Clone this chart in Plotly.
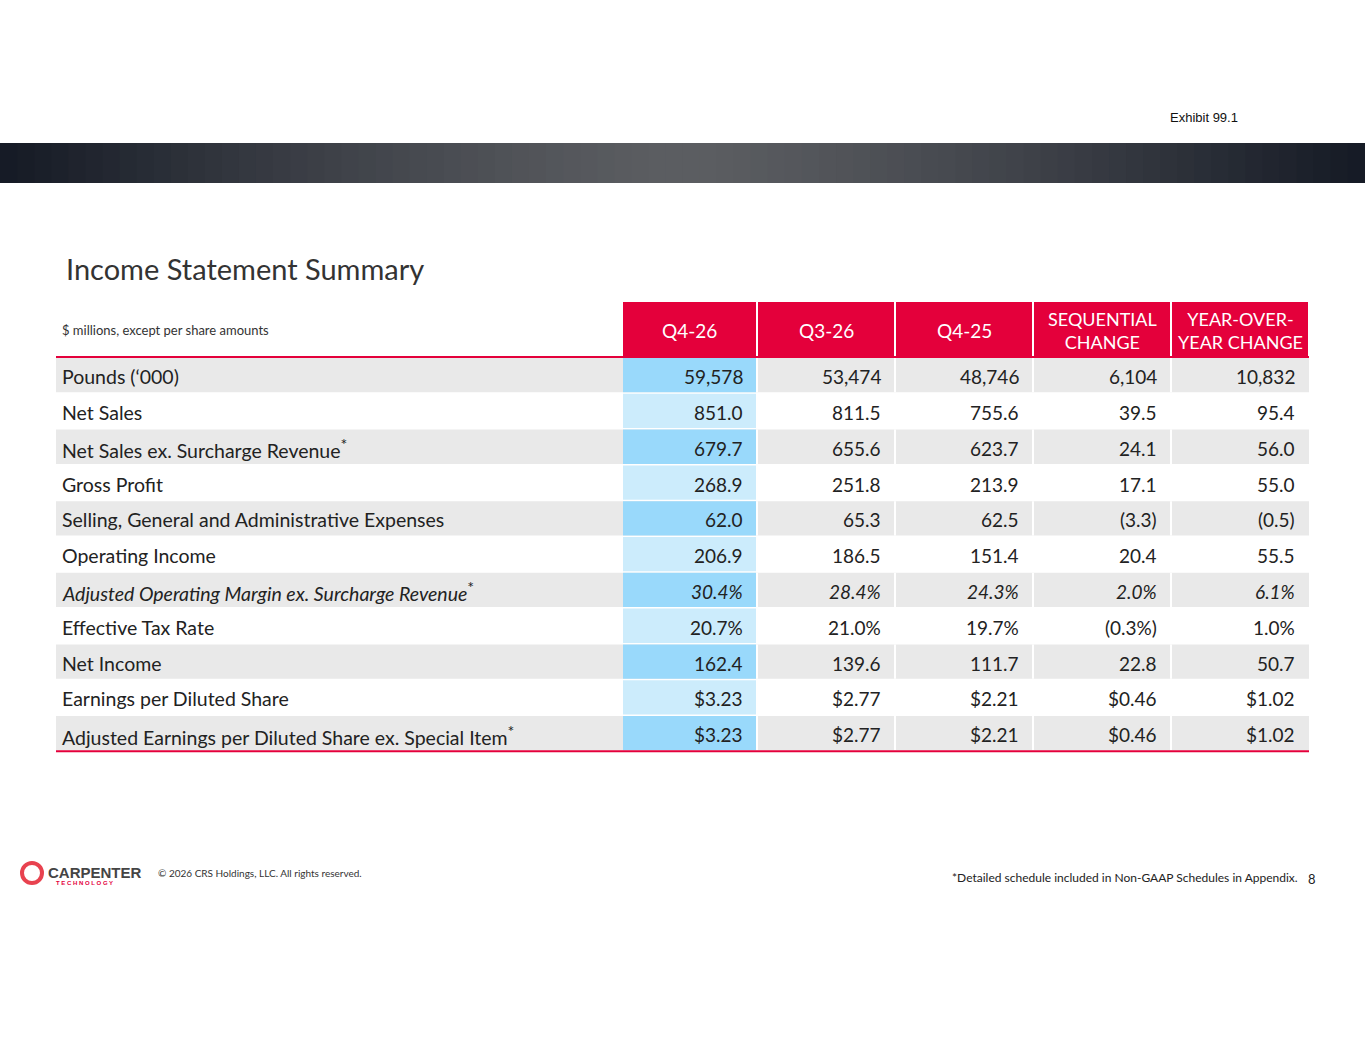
import plotly.graph_objects as go

columns = ["Q4-26", "Q3-26", "Q4-25", "SEQUENTIAL<br>CHANGE", "YEAR-OVER-<br>YEAR CHANGE"]
row_labels = ["Pounds (‘000)", "Net Sales", "Net Sales ex. Surcharge Revenue<sup>*</sup>", "Gross Profit",
              "Selling, General and Administrative Expenses", "Operating Income",
              "<i>Adjusted Operating Margin ex. Surcharge Revenue</i><sup>*</sup>", "Effective Tax Rate",
              "Net Income", "Earnings per Diluted Share",
              "Adjusted Earnings per Diluted Share ex. Special Item<sup>*</sup>"]
q4_26 = ["59,578", "851.0", "679.7", "268.9", "62.0", "206.9", "30.4%", "20.7%", "162.4", "$3.23", "$3.23"]
q3_26 = ["53,474", "811.5", "655.6", "251.8", "65.3", "186.5", "28.4%", "21.0%", "139.6", "$2.77", "$2.77"]
q4_25 = ["48,746", "755.6", "623.7", "213.9", "62.5", "151.4", "24.3%", "19.7%", "111.7", "$2.21", "$2.21"]
seq_chg = ["6,104", "39.5", "24.1", "17.1", "(3.3)", "20.4", "2.0%", "(0.3%)", "22.8", "$0.46", "$0.46"]
yoy_chg = ["10,832", "95.4", "56.0", "55.0", "(0.5)", "55.5", "6.1%", "1.0%", "50.7", "$1.02", "$1.02"]
italic_row = 6

FONT = "Lato"
col_edges = [623, 757, 895, 1033, 1171, 1309]
label_x0 = 56
row_top0 = 358
row_h = 35.8
shapes, ann = [], []

n = 80
for i in range(n):
    t = i / (n - 1)
    d = abs(t - 0.5) * 2
    c0 = (92, 94, 98); c1 = (22, 27, 38)
    c = tuple(int(c0[k] + (c1[k] - c0[k]) * d ** 1.3) for k in range(3))
    shapes.append(dict(type="rect", x0=1365 * i / n, x1=1365 * (i + 1) / n + 1, y0=143, y1=183,
                       fillcolor="rgb(%d,%d,%d)" % c, line_width=0, layer="below"))

ann.append(dict(x=1240, y=117, text="Exhibit 99.1", xanchor="right", font=dict(size=13, color="#111", family="Liberation Sans")))
ann.append(dict(x=64, y=268, text="Income Statement Summary", xanchor="left", font=dict(size=29, color="#333", family=FONT)))
ann.append(dict(x=60, y=330, text="$ millions, except per share amounts", xanchor="left", font=dict(size=13, color="#333", family=FONT)))

for j, name in enumerate(columns):
    x0, x1 = col_edges[j] + (0 if j == 0 else 1), col_edges[j + 1] - 1
    shapes.append(dict(type="rect", x0=x0, x1=x1, y0=302, y1=356, fillcolor="#e4003b", line_width=0))
    ann.append(dict(x=(x0 + x1) / 2, y=330, text=name, font=dict(size=19 if j < 3 else 18, color="white", family=FONT)))
shapes.append(dict(type="line", x0=56, x1=1309, y0=357, y1=357, line=dict(color="#e4003b", width=2)))

vals = [q4_26, q3_26, q4_25, seq_chg, yoy_chg]
for i, lab in enumerate(row_labels):
    y0 = row_top0 + i * row_h
    y1 = y0 + row_h - 1.5
    yc = (y0 + y1) / 2 + 1.5
    gray = i % 2 == 0
    if gray:
        shapes.append(dict(type="rect", x0=label_x0, x1=col_edges[-1], y0=y0, y1=y1, fillcolor="#e9e9e9", line_width=0, layer="below"))
    shapes.append(dict(type="rect", x0=col_edges[0], x1=col_edges[1] - 1, y0=y0, y1=y1,
                       fillcolor="#99d9fb" if gray else "#ccecfc", line_width=0, layer="below"))
    if gray:
        for e in col_edges[1:-1]:
            shapes.append(dict(type="line", x0=e, x1=e, y0=y0, y1=y1, line=dict(color="white", width=2)))
    ann.append(dict(x=60, y=yc, text=lab.replace("<sup>*</sup>", "<sup><span style='font-size:16px'>*</span></sup>"),
                    xanchor="left", font=dict(size=19.5, color="#222", family=FONT)))
    for j in range(5):
        t = vals[j][i]
        if i == italic_row:
            t = "<i>" + t + "</i>"
        ann.append(dict(x=col_edges[j + 1] - 12, y=yc, text=t, xanchor="right", font=dict(size=19, color="#222", family=FONT)))
shapes.append(dict(type="line", x0=56, x1=1309, y0=row_top0 + 11 * row_h - 0.5, y1=row_top0 + 11 * row_h - 0.5,
                   line=dict(color="#e4003b", width=2)))

shapes.append(dict(type="circle", x0=22, x1=42, y0=863, y1=883, line=dict(color="#e8424f", width=4)))
ann.append(dict(x=46, y=872, text="<b>CARPENTER</b>", xanchor="left", font=dict(size=15, color="#444", family="Liberation Sans")))
ann.append(dict(x=54, y=883, text="<b>T E C H N O L O G Y</b>", xanchor="left", font=dict(size=6, color="#e4003b", family="Liberation Sans")))
ann.append(dict(x=156, y=873, text="© 2026 CRS Holdings, LLC. All rights reserved.", xanchor="left", font=dict(size=10, color="#333", family=FONT)))
ann.append(dict(x=1300, y=877, text="*Detailed schedule included in Non-GAAP Schedules in Appendix.", xanchor="right", font=dict(size=12, color="#222", family=FONT)))
ann.append(dict(x=1318, y=879, text="8", xanchor="right", font=dict(size=13, color="#222", family=FONT)))

for a in ann:
    a.update(xref="x", yref="y", showarrow=False)

fig = go.Figure()
fig.update_layout(width=1365, height=1055, margin=dict(l=0, r=0, t=0, b=0),
                  plot_bgcolor="white", paper_bgcolor="white", shapes=shapes, annotations=ann,
                  xaxis=dict(range=[0, 1365], visible=False, fixedrange=True),
                  yaxis=dict(range=[1055, 0], visible=False, fixedrange=True), showlegend=False)
fig.write_html("out.html", config={"displayModeBar": False},
               post_script="document.body.style.margin='0';document.body.style.overflow='hidden';")
